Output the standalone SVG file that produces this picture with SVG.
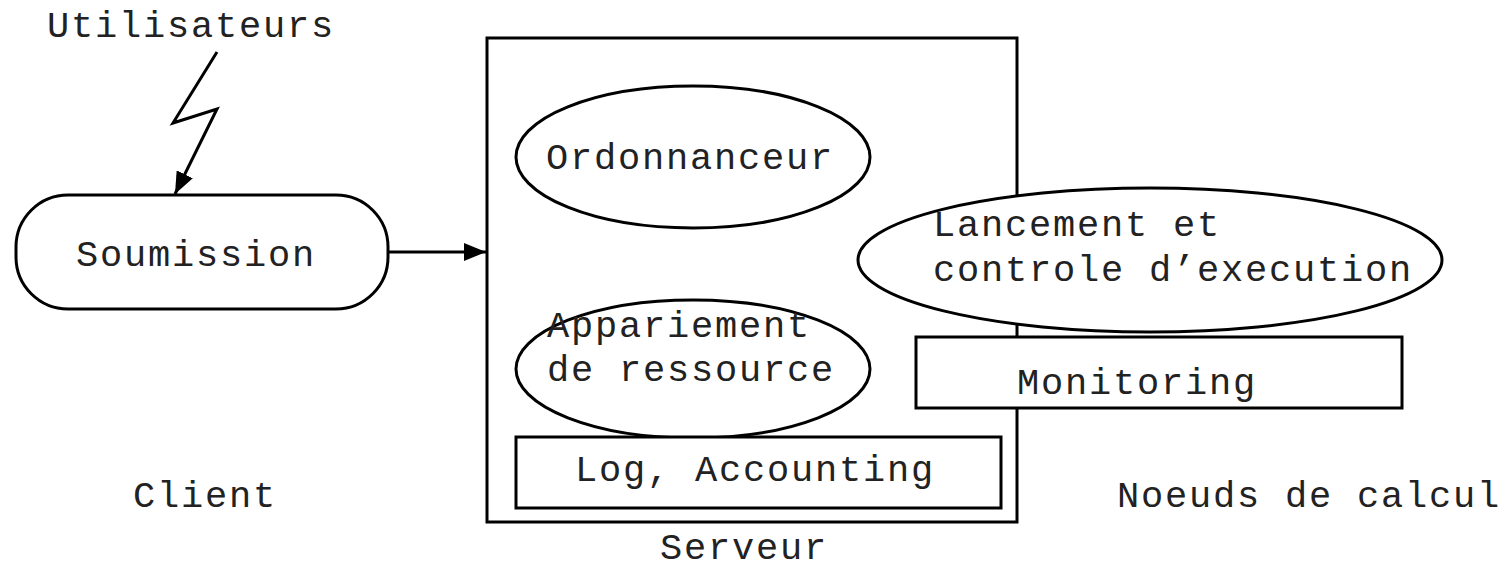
<svg xmlns="http://www.w3.org/2000/svg" width="1503" height="569" viewBox="0 0 1503 569">
<style>
.s{fill:#fff;stroke:#000;stroke-width:3}
.n{fill:none;stroke:#000;stroke-width:3}
.t{font-family:"Liberation Mono","Courier New",monospace;font-size:37px;letter-spacing:1.8px;fill:#222}
</style>
<defs>
<marker id="ah2" viewBox="0 0 10 10" refX="10" refY="5" markerWidth="22" markerHeight="18" orient="auto" markerUnits="userSpaceOnUse" preserveAspectRatio="none">
<path d="M0,0 L10,5 L0,10 z" fill="#000"/>
</marker>
</defs>
<rect width="1503" height="569" fill="#fff"/>
<g id="serveur">
<rect class="s" x="487" y="38" width="530" height="484"/>
<text class="t" x="660" y="559">Serveur</text>
</g>
<g id="utilisateurs">
<text class="t" x="47" y="37">Utilisateurs</text>
</g>
<g id="soumission">
<rect class="s" x="16" y="195" width="372" height="114" rx="52" ry="52"/>
<text class="t" x="76" y="266">Soumission</text>
</g>
<g id="client">
<text class="t" x="133" y="507">Client</text>
</g>
<g id="ordonnanceur">
<ellipse class="s" cx="693" cy="157" rx="177" ry="71"/>
<text class="t" x="546" y="169">Ordonnanceur</text>
</g>
<g id="appariement">
<ellipse class="s" cx="693" cy="369" rx="177" ry="69"/>
<text class="t" x="547" y="337">Appariement</text>
<text class="t" x="547" y="381">de ressource</text>
</g>
<g id="log">
<rect class="s" x="516" y="437" width="485" height="71"/>
<text class="t" x="575" y="481">Log, Accounting</text>
</g>
<g id="lancement">
<ellipse class="s" cx="1150" cy="260" rx="292" ry="72"/>
<text class="t" x="933" y="236">Lancement et</text>
<text class="t" x="933" y="281">controle d’execution</text>
</g>
<g id="monitoring">
<rect class="s" x="916" y="337" width="486" height="71"/>
<text class="t" x="1017" y="394">Monitoring</text>
</g>
<g id="noeuds">
<text class="t" x="1117" y="507">Noeuds de calcul</text>
</g>
<g id="connectors">
<polyline class="n" points="217,52 173,123 217,109 175,194" marker-end="url(#ah2)"/>
<line class="n" x1="388" y1="252" x2="486" y2="252" marker-end="url(#ah2)"/>
</g>
</svg>
